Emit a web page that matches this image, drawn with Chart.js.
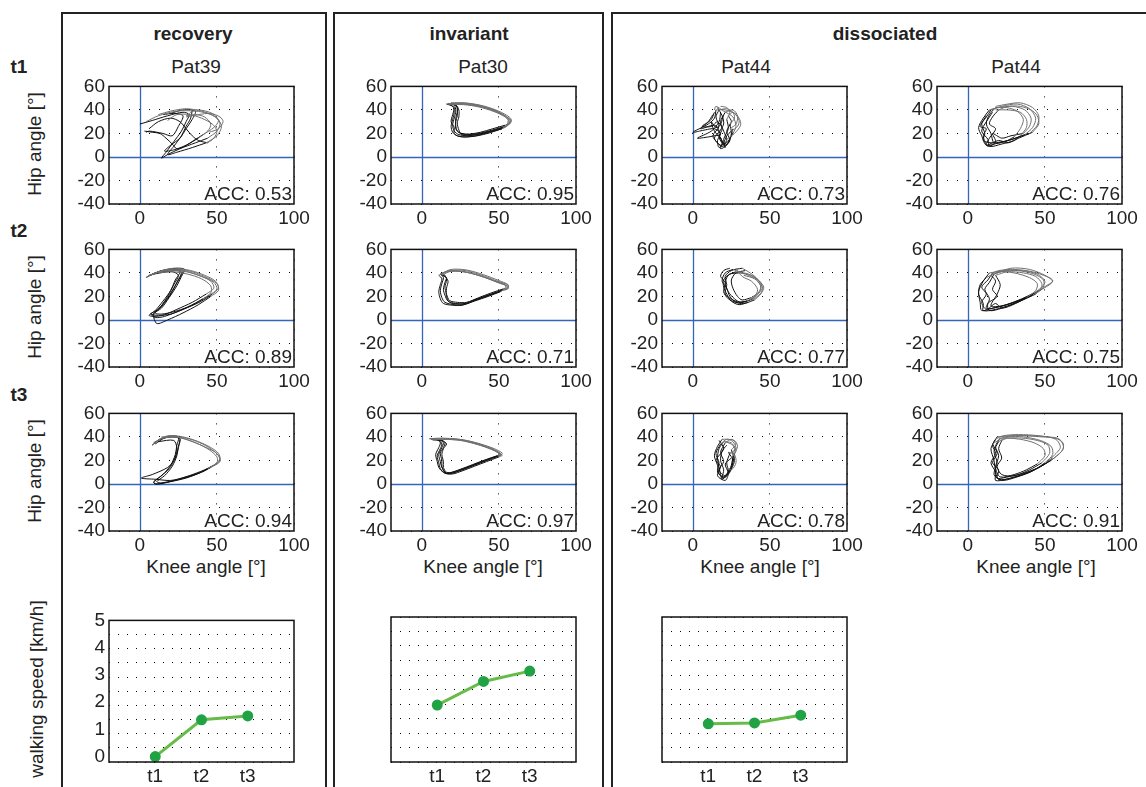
<!DOCTYPE html>
<html>
<head>
<meta charset="utf-8">
<script src="https://cdn.jsdelivr.net/npm/chart.js@4.4.1/dist/chart.umd.min.js"></script>
<style>
  body { margin: 0; background: #fff; }
  #fig { position: relative; width: 1146px; height: 787px; overflow: hidden;
         font-family: 'Liberation Sans', Arial, sans-serif; color: #222; }
  .frame { position: absolute; border: 2px solid #222; box-sizing: border-box; }
  .lbl { position: absolute; font-size: 19px; white-space: nowrap; transform: translate(-50%, -50%); }
  .bold { font-weight: bold; }
  .rot { transform: translate(-50%, -50%) rotate(-90deg); }
  canvas { position: absolute; }
</style>
</head>
<body>
<div id="fig"></div>
<script>
// ---- data: knee angle (x) / hip angle (y), one sub-array per gait cycle ----
// black = stance part, grey = swing part
var pat39T1Black = [
  [[0,28],[8,31],[18,35],[28,38],[32,36],[30,30],[27,22],[22,13],[17,4],[14,-1],[18,2],[26,7],[36,12],[44,16]],
  [[3,22],[8,21],[13,20],[17,16],[21,11],[24,7],[29,9],[35,14],[41,19]],
  [[34,40],[33,33],[30,26],[27,18],[22,9],[18,2],[24,4],[34,8],[43,12]],
  [[15,36],[22,37],[28,35],[25,26],[21,18],[15,20],[6,22],[4,21]],
  [[6,24],[12,30],[20,33],[26,30],[30,24],[34,18],[38,14],[44,12]],
  [[20,37],[28,40],[36,39],[34,32],[30,24],[26,16],[20,10],[16,5],[22,6],[30,10],[38,16]]
];
var pat39T1Grey = [
  [[44,16],[50,22],[52,29],[48,35],[40,39],[30,41],[20,39],[12,36]],
  [[41,19],[48,25],[51,31],[47,37],[38,40],[33,38],[31,34]],
  [[43,12],[50,18],[53,26],[50,33],[44,37],[36,39],[24,39],[12,35],[4,30]],
  [[44,12],[48,16],[50,22],[47,28],[40,33],[32,36],[24,36],[18,31]],
  [[38,16],[44,22],[46,28],[42,34],[36,36],[30,35]],
  [[30,34],[38,36],[46,37],[52,34],[54,30],[51,24],[45,21]]
];
var pat39T2Black = [
  [[5,37],[12,41],[22,43],[28,42],[26,36],[22,27],[17,17],[12,9],[8,4],[10,2],[16,3],[26,8],[36,14],[45,21]],
  [[7,38],[14,42],[24,44],[29,43],[27,37],[24,29],[19,19],[14,10],[9,5],[11,-3],[18,0],[28,6],[38,13],[46,20]],
  [[4,36],[10,40],[20,42],[26,41],[23,34],[20,25],[15,16],[10,8],[6,4],[9,3],[15,4],[24,9],[34,15],[43,22]],
  [[9,39],[16,42],[25,43],[27,40],[24,32],[21,24],[18,18],[13,10],[7,5],[12,4],[20,5],[30,10],[40,16],[47,22]],
  [[6,38],[13,40],[21,41],[25,38],[22,30],[18,20],[14,12],[10,6],[14,5],[22,7],[31,11],[41,18]]
];
var pat39T2Grey = [
  [[45,21],[50,26],[48,32],[40,37],[30,41],[18,42],[8,39],[5,37]],
  [[46,20],[51,25],[50,31],[42,37],[31,42],[20,43],[10,40],[7,38]],
  [[43,22],[48,27],[46,33],[38,38],[28,42],[16,42],[7,38],[4,36]],
  [[47,22],[51,27],[49,33],[42,38],[33,42],[22,44],[12,41],[9,39]],
  [[41,18],[46,23],[46,29],[40,35],[31,39],[21,41],[12,40]]
];
var pat39T3Black = [
  [[8,33],[13,38],[20,40],[25,39],[24,33],[23,25],[20,16],[15,8],[9,2],[10,0],[16,1],[26,4],[36,8],[44,13]],
  [[12,36],[22,37],[24,30],[22,20],[18,14],[8,8],[1,5],[10,4],[20,3],[30,6],[40,10],[47,15]],
  [[10,34],[16,39],[23,40],[26,38],[25,31],[23,22],[19,13],[13,6],[9,1],[12,0],[20,2],[30,5],[40,10],[46,14]],
  [[9,35],[15,39],[22,41],[26,39],[25,32],[24,24],[21,15],[16,7],[11,2],[14,1],[22,3],[32,7],[42,12],[48,16]]
];
var pat39T3Grey = [
  [[44,13],[50,18],[50,23],[45,29],[38,34],[30,38],[22,40],[14,39],[8,33]],
  [[47,15],[52,20],[50,26],[43,31],[34,36],[24,40],[14,40]],
  [[46,14],[52,19],[51,24],[46,30],[39,35],[30,39],[21,40],[13,38],[10,34]],
  [[48,16],[52,21],[51,26],[46,31],[38,36],[28,40],[18,41],[9,35]]
];

var pat30T1Black = [
  [[53,25],[45,22],[36,19],[29,18],[24,19],[21,22],[20,27],[21,33],[22,39],[21,44],[17,45.5]],
  [[54,26],[46,23],[37,20],[30,19],[25,20],[22,24],[22,30],[23,35],[23,40],[22,44],[18,45]],
  [[52,24],[44,21],[35,18],[28,17],[23,18],[20,21],[19,26],[20,32],[21,38],[20,43],[16,45]],
  [[53,25],[45,22],[37,19.5],[31,18.5],[26,19],[24,23],[23,29],[24,34],[24,40],[22,44],[17,45]],
  [[54,27],[46,24],[38,21],[31,19.5],[26,20],[23,22],[22,27],[22,33],[23,38],[23,43],[19,46]],
  [[52,24],[44,20.5],[36,18],[29,17],[24,17.5],[21,20],[21,25],[19,30],[20,36],[21,42],[18,44.5]]
];
var pat30T1Grey = [
  [[17,45.5],[26,45.5],[36,44],[46,40],[54,35],[57,31],[56,28],[53,25]],
  [[18,45],[27,45],[37,43],[47,39],[55,34],[58,31],[57,28],[54,26]],
  [[16,45],[25,46],[35,44.5],[45,41],[53,36],[56,32],[55,27],[52,24]],
  [[17,45],[26,45],[36,43.5],[46,40],[54,35],[57.5,31],[56,27],[53,25]],
  [[19,46],[28,46],[38,44],[48,40],[55,35.5],[58,32],[57,29],[54,27]],
  [[18,44.5],[27,44.5],[37,42.5],[47,38.5],[54,34],[56.5,30],[55,26],[52,24]]
];
var pat30T2Black = [
  [[52,25],[44,21],[35,17],[27,13],[21,13],[15,15],[13,19],[12,25],[13,31],[14,36],[12,39]],
  [[53,26],[45,22],[36,18],[28,14],[22,14],[17,16],[15,21],[14,26],[15,32],[16,36],[13,38]],
  [[51,24],[43,20],[34,16],[26,12.5],[20,12.5],[14,14],[12,18],[11,24],[12,30],[13,35],[11,38]],
  [[52,25],[44,21.5],[36,17.5],[29,14],[23,13.5],[18,15],[16,20],[16,27],[17,33],[15,37],[12,39]],
  [[53,26.5],[45,23],[37,19],[29,15],[23,15],[18,16.5],[16,22],[15,28],[16,34],[15,38],[13,39.5]]
];
var pat30T2Grey = [
  [[12,39],[18,42],[28,41],[39,37],[49,32],[55,29],[55,27],[52,25]],
  [[13,38],[19,41.5],[29,40.5],[40,36.5],[50,31.5],[56,28.5],[56,26.5],[53,26]],
  [[11,38],[17,41],[27,41],[38,37.5],[48,33],[54,30],[54,27],[51,24]],
  [[12,39],[18,42],[28,42],[39,38],[49,33],[56,29.5],[55,26],[52,25]],
  [[13,39.5],[19,43],[29,42.5],[40,38.5],[50,33.5],[56,30],[56,27.5],[53,26.5]]
];
var pat30T3Black = [
  [[50,24],[42,20],[34,16],[26,12],[19,9],[15,9],[12,13],[11,18],[10,24],[12,30],[13,34],[11,37],[6,38]],
  [[50,23],[42,19],[34,15],[26,11],[20,8.5],[16,9],[13,14],[12,19],[11,25],[13,31],[14,35],[12,37],[7,37.5]],
  [[49,24],[41,20.5],[33,16.5],[25,12.5],[18,9.5],[14,10],[11,14],[10,19],[9,25],[11,31],[12,35],[10,38],[5,38.5]],
  [[50,24],[42,20],[34,16],[26,12],[19,9],[15,9.5],[13,15],[13,20],[12,26],[14,31],[15,35],[12,37.5],[6,38]],
  [[51,25],[43,21],[35,17],[27,13],[20,10],[16,10],[14,14],[14,19],[13,25],[14,30],[16,34],[13,37],[8,38]]
];
var pat30T3Grey = [
  [[6,38],[14,38.5],[25,37.5],[36,34],[45,30],[51,26],[52,24],[50,24]],
  [[7,37.5],[15,38],[26,37],[37,33.5],[46,29],[51,25.5],[51,23.5],[50,23]],
  [[5,38.5],[13,39],[24,38],[35,35],[44,31],[50,27],[51,24.5],[49,24]],
  [[6,38],[14,38],[25,37],[36,33.5],[45,29.5],[50,26],[51,24],[50,24]],
  [[8,38],[16,38.5],[27,37.5],[38,34],[47,30],[52,26.5],[52,25],[51,25]]
];

var pat44aT1Black = [
  [[15,40],[14,33],[10,28],[0,21],[8,23],[14,24],[18,20],[16,14],[17,8],[20,12],[22,18],[25,22]],
  [[18,38],[17,30],[12,22],[3,16],[10,17],[17,18],[19,12],[18,7],[22,10],[24,16],[26,20]],
  [[20,36],[18,28],[15,25],[12,30],[14,22],[18,16],[21,10],[24,14],[22,22],[25,30],[23,35]],
  [[16,42],[19,35],[20,28],[17,20],[19,13],[21,8],[20,15],[23,24],[22,32]],
  [[14,38],[12,32],[5,24],[14,27],[17,22],[14,16],[18,10],[22,14],[20,22],[18,30],[21,38]],
  [[17,40],[15,34],[17,26],[13,18],[16,12],[19,9],[23,12],[25,20],[24,28]],
  [[13,36],[10,30],[6,26],[12,26],[16,30],[19,24],[17,17],[20,11],[24,15],[26,24]]
];
var pat44aT1Grey = [
  [[25,22],[29,26],[30,31],[27,37],[21,40],[15,40]],
  [[26,20],[28,26],[26,34],[20,39],[15,43],[14,40]],
  [[23,35],[26,38],[30,33],[31,27],[27,20],[22,15]],
  [[22,32],[24,38],[22,42],[18,43]],
  [[21,38],[26,40],[29,35],[28,28],[24,24]],
  [[24,28],[27,33],[26,38],[22,41],[17,40]]
];
var pat44aT2Black = [
  [[30,40],[24,39],[20,34],[20,28],[22,22],[25,16],[30,13],[36,15]],
  [[26,43],[21,40],[19,33],[22,27],[24,20],[28,15],[33,14],[40,17]],
  [[34,42],[28,40],[25,34],[26,27],[29,20],[32,17],[38,19]],
  [[24,44],[20,42],[18,37],[21,32],[20,24],[23,18],[28,15],[35,16]],
  [[28,41],[23,38],[21,31],[23,24],[27,18],[31,15],[37,17]],
  [[32,44],[25,42],[21,37],[22,30],[21,22],[26,17],[32,15],[39,18]]
];
var pat44aT2Grey = [
  [[36,15],[42,20],[45,25],[44,32],[38,38],[30,40]],
  [[40,17],[44,22],[46,28],[42,34],[34,39],[26,43]],
  [[38,19],[43,24],[44,29],[40,35],[33,38]],
  [[35,16],[40,20],[42,26],[38,33],[32,37],[28,44]],
  [[37,17],[42,22],[45,27],[43,33],[36,39],[28,41]],
  [[39,18],[43,23],[44,29],[41,36],[36,41],[32,44]]
];
var pat44aT3Black = [
  [[20,36],[17,30],[16,22],[17,14],[18,8],[19,4],[22,8],[25,16],[26,24]],
  [[18,34],[15,26],[17,18],[16,10],[20,6],[23,10],[22,18],[24,26]],
  [[22,33],[19,28],[18,20],[20,12],[19,5],[24,12],[26,20],[23,27]],
  [[17,37],[20,30],[15,20],[18,15],[16,7],[21,3],[23,9],[21,17],[25,22]],
  [[19,38],[16,32],[14,24],[16,16],[17,9],[20,5],[24,10],[26,18],[27,26]],
  [[21,35],[18,27],[20,19],[17,12],[21,7],[25,13],[27,20],[25,29]]
];
var pat44aT3Grey = [
  [[26,24],[27,30],[25,35],[20,36]],
  [[24,26],[28,30],[26,36],[22,38],[18,34]],
  [[23,27],[27,25],[28,18],[25,12],[22,14]],
  [[25,22],[28,28],[26,33],[21,36]],
  [[27,26],[29,32],[27,37],[22,38],[19,38]],
  [[25,29],[28,34],[25,38],[21,35]]
];

var pat44bT1Black = [
  [[14,40],[10,33],[7,25],[9,18],[12,10],[20,12],[29,15],[37,19]],
  [[16,38],[12,30],[9,22],[13,15],[14,9],[22,11],[30,14],[34,18]],
  [[18,42],[14,36],[12,28],[15,20],[17,12],[24,13],[30,17]],
  [[12,35],[9,28],[11,20],[10,14],[16,12],[26,14],[35,18],[40,20]],
  [[15,40],[12,34],[8,26],[12,24],[10,18],[13,9],[18,13],[16,20],[22,16],[28,18],[36,20]],
  [[20,40],[16,34],[14,28],[18,24],[14,16],[12,10],[20,14],[26,12],[33,16],[42,21]]
];
var pat44bT1Grey = [
  [[37,19],[42,25],[44,33],[40,41],[32,45],[22,43],[14,40]],
  [[34,18],[38,25],[38,32],[34,38],[26,40],[18,40]],
  [[30,17],[34,24],[36,32],[32,39],[25,42],[18,42]],
  [[40,20],[45,27],[46,35],[42,42],[34,46],[26,45],[18,43]],
  [[36,20],[40,26],[41,33],[37,40],[29,43],[20,42],[15,40]],
  [[42,21],[46,28],[45,35],[41,40],[34,43],[26,43],[20,40]]
];
var pat44bT2Black = [
  [[14,40],[10,33],[7,24],[8,15],[9,8],[16,10],[25,13],[35,18],[43,23]],
  [[17,39],[14,32],[11,26],[14,18],[12,10],[20,11],[30,15],[40,20],[46,25]],
  [[18,38],[21,30],[19,22],[15,12],[22,12],[32,16],[42,21]],
  [[12,36],[8,30],[7,22],[10,14],[10,8],[18,9],[28,13],[38,19]],
  [[16,40],[13,34],[9,28],[12,22],[9,15],[12,9],[18,14],[22,10],[31,14],[41,21],[48,26]],
  [[15,38],[18,33],[16,26],[19,20],[13,14],[14,8],[22,10],[34,16],[44,22]]
];
var pat44bT2Grey = [
  [[43,23],[48,28],[50,33],[45,39],[35,42],[24,42],[14,40]],
  [[46,25],[52,30],[55,33],[50,38],[40,43],[28,44],[17,39]],
  [[42,21],[47,26],[48,31],[44,37],[36,40],[26,41],[18,38]],
  [[38,19],[44,25],[45,31],[40,36],[30,40],[20,41],[12,36]],
  [[48,26],[54,31],[55,34],[51,37],[42,41],[30,43],[20,42],[16,40]],
  [[44,22],[49,28],[49,34],[43,39],[32,42],[22,41],[15,38]]
];
var pat44bT3Black = [
  [[18,38],[15,30],[17,20],[18,10],[20,4],[28,5],[40,10],[50,17],[55,23]],
  [[20,36],[17,28],[19,18],[17,8],[22,3],[32,6],[42,11],[50,18]],
  [[21,39],[18,32],[20,24],[18,14],[21,6],[30,8],[38,12],[45,17]],
  [[16,34],[19,26],[16,18],[20,12],[19,5],[26,6],[36,9],[46,14],[54,20]],
  [[19,40],[16,33],[18,26],[15,18],[18,10],[18,3],[25,4],[35,8],[46,14],[56,22]],
  [[22,37],[20,30],[22,22],[19,15],[22,8],[30,7],[40,12],[48,18]]
];
var pat44bT3Grey = [
  [[55,23],[60,31],[57,38],[46,41],[33,42],[23,41],[18,38]],
  [[50,18],[55,25],[54,32],[47,37],[36,40],[26,40],[20,36]],
  [[45,17],[50,24],[49,30],[43,35],[34,38],[26,39],[21,39]],
  [[54,20],[61,28],[62,34],[58,39],[48,40],[36,41],[24,40],[16,34]],
  [[56,22],[62,30],[60,37],[52,40],[40,41],[28,41],[19,40]],
  [[48,18],[53,26],[52,33],[45,37],[35,39],[26,39],[22,37]]
];

var accRecovery = [0.53, 0.89, 0.94];
var accInvariant = [0.95, 0.71, 0.97];
var accDissA = [0.73, 0.77, 0.78];
var accDissB = [0.76, 0.75, 0.91];

var kneeTicks = [0, 50, 100];
var hipTicks = [-40, -20, 0, 20, 40, 60];

// walking speed [km/h] per session
var sessions = ['t1', 't2', 't3'];
var speedRecovery = [0.0, 1.35, 1.49];
var speedInvariant = [1.84, 2.69, 3.06];
var speedDissociated = [1.17, 1.2, 1.48];
var speedTicks = [0, 1, 2, 3, 4, 5];

// ---- layout ----
var fig = document.getElementById('fig');
var colX = [109, 391, 662, 937];
var rowY = [83, 246, 410];
var AX_W = 185, AX_H = 121;
var SP_Y = 617, SP_H = 145;
var PAD_T = 12, PAD_R = 22, Y_W = 46, X_H = 28;
var FONT = { family: "'Liberation Sans', Arial, sans-serif", size: 19 };
var INK = '#222';

function addDiv(cls, text, x, y) {
  var d = document.createElement('div');
  d.className = cls;
  d.textContent = text;
  d.style.left = x + 'px';
  d.style.top = y + 'px';
  fig.appendChild(d);
  return d;
}

function addFrame(x, w) {
  var d = document.createElement('div');
  d.className = 'frame';
  Object.assign(d.style, { left: x + 'px', top: '12px', width: w + 'px', height: '820px' });
  fig.appendChild(d);
}

function addCanvas(left, top, w, h) {
  var c = document.createElement('canvas');
  c.width = w; c.height = h;
  c.style.left = left + 'px'; c.style.top = top + 'px';
  c.style.width = w + 'px'; c.style.height = h + 'px';
  fig.appendChild(c);
  return c;
}

// dotted grid, skipped at 0 where the blue zero line goes
function dotColor(ctx) {
  return ctx.tick && ctx.tick.value === 0 ? 'rgba(0,0,0,0)' : '#000';
}

// box around the plot area, zero lines and the ACC note
var axesBox = {
  id: 'axesBox',
  beforeDatasetsDraw: function(chart, args, opts) {
    if (!opts.zero) return;
    var a = chart.chartArea, ctx = chart.ctx;
    var x0 = Math.round(chart.scales.x.getPixelForValue(0)) + 0.5;
    var y0 = Math.round(chart.scales.y.getPixelForValue(0)) + 0.5;
    ctx.save();
    ctx.setLineDash([]);
    ctx.strokeStyle = '#3366bb';
    ctx.lineWidth = 1.3;
    ctx.beginPath();
    ctx.moveTo(x0, a.top); ctx.lineTo(x0, a.bottom);
    ctx.moveTo(a.left, y0); ctx.lineTo(a.right, y0);
    ctx.stroke();
    ctx.restore();
  },
  afterDraw: function(chart, args, opts) {
    var a = chart.chartArea, ctx = chart.ctx;
    ctx.save();
    ctx.setLineDash([]);
    ctx.strokeStyle = '#111';
    ctx.lineWidth = 1.5;
    ctx.strokeRect(a.left, a.top, a.right - a.left, a.bottom - a.top);
    if (opts.note) {
      ctx.font = FONT.size + 'px ' + FONT.family;
      ctx.fillStyle = INK;
      ctx.textAlign = 'right';
      ctx.textBaseline = 'alphabetic';
      ctx.fillText(opts.note, a.right - 2, a.bottom - 4);
    }
    ctx.restore();
  }
};

function loopSets(cycles, color) {
  return cycles.map(function(c) {
    return {
      data: c.map(function(p) { return { x: p[0], y: p[1] }; }),
      showLine: true,
      borderColor: color,
      borderWidth: 1,
      pointRadius: 0,
      tension: 0.3,
      fill: false
    };
  });
}

function cyclogram(col, row, black, grey, acc) {
  var c = addCanvas(colX[col] - Y_W, rowY[row] - PAD_T, Y_W + AX_W + PAD_R, PAD_T + AX_H + X_H);
  new Chart(c, {
    type: 'scatter',
    data: { datasets: loopSets(grey, '#707070').concat(loopSets(black, '#111')) },
    options: {
      responsive: false,
      animation: false,
      layout: { padding: { top: PAD_T, right: PAD_R, left: 0, bottom: 0 } },
      plugins: {
        legend: { display: false },
        tooltip: { enabled: false },
        axesBox: { zero: true, note: 'ACC: ' + acc.toFixed(2) }
      },
      scales: {
        x: {
          type: 'linear', min: -20, max: 100,
          afterBuildTicks: function(s) { s.ticks = kneeTicks.map(function(v) { return { value: v }; }); },
          afterFit: function(s) { s.height = X_H; },
          grid: { color: dotColor, lineWidth: 1, drawTicks: false },
          border: { display: false, dash: [1, 9] },
          ticks: { font: FONT, color: INK, padding: 3, maxRotation: 0, autoSkip: false }
        },
        y: {
          type: 'linear', min: -40, max: 60,
          afterBuildTicks: function(s) { s.ticks = hipTicks.map(function(v) { return { value: v }; }); },
          afterFit: function(s) { s.width = Y_W; },
          grid: { color: dotColor, lineWidth: 1, drawTicks: false },
          border: { display: false, dash: [1, 9] },
          ticks: { font: FONT, color: INK, padding: 4, autoSkip: false }
        }
      }
    },
    plugins: [axesBox]
  });
}

function speedPanel(col, speeds, showY) {
  var c = addCanvas(colX[col] - Y_W, SP_Y - PAD_T, Y_W + AX_W + PAD_R, PAD_T + SP_H + X_H);
  new Chart(c, {
    type: 'scatter',
    data: {
      datasets: [{
        data: speeds.map(function(v, i) { return { x: i + 1, y: v }; }),
        showLine: true,
        borderColor: '#67bb48',
        borderWidth: 3,
        pointRadius: 4,
        pointBackgroundColor: '#21a244',
        pointBorderColor: '#21a244',
        tension: 0
      }]
    },
    options: {
      responsive: false,
      animation: false,
      layout: { padding: { top: PAD_T, right: PAD_R, left: 0, bottom: 0 } },
      plugins: { legend: { display: false }, tooltip: { enabled: false }, axesBox: {} },
      scales: {
        x: {
          type: 'linear', min: 0, max: sessions.length + 1,
          afterBuildTicks: function(s) { s.ticks = sessions.map(function(v, i) { return { value: i + 1 }; }); },
          afterFit: function(s) { s.height = X_H; },
          grid: { display: false, drawTicks: false },
          border: { display: false },
          ticks: {
            font: FONT, color: INK, padding: 3, maxRotation: 0, autoSkip: false,
            callback: function(v) { return sessions[v - 1]; }
          }
        },
        y: {
          type: 'linear', min: -0.2, max: 5,
          afterBuildTicks: function(s) { s.ticks = speedTicks.map(function(v) { return { value: v }; }); },
          afterFit: function(s) { s.width = Y_W; },
          grid: { display: false, drawTicks: false },
          border: { display: false },
          ticks: { display: showY, font: FONT, color: INK, padding: 4, autoSkip: false }
        },
        yg: {
          type: 'linear', position: 'left', min: 0, max: 10,
          afterBuildTicks: function(s) {
            var t = [];
            for (var i = 0; i <= 10; i++) t.push({ value: i });
            s.ticks = t;
          },
          afterFit: function(s) { s.width = 0; },
          grid: { color: '#000', lineWidth: 1, drawTicks: false },
          border: { display: false, dash: [1, 8] },
          ticks: { display: false }
        }
      }
    },
    plugins: [axesBox]
  });
}

// group frames and headings
addFrame(61, 266);
addFrame(333, 271);
addFrame(611, 600);
addDiv('lbl bold', 'recovery', 193, 34);
addDiv('lbl bold', 'invariant', 469, 34);
addDiv('lbl bold', 'dissociated', 885, 34);
addDiv('lbl bold', 't1', 19, 67);
addDiv('lbl bold', 't2', 19, 231);
addDiv('lbl bold', 't3', 19, 395);
addDiv('lbl', 'Pat39', 196, 67);
addDiv('lbl', 'Pat30', 483, 67);
addDiv('lbl', 'Pat44', 746, 67);
addDiv('lbl', 'Pat44', 1016, 67);
[0, 1, 2].forEach(function(r) {
  addDiv('lbl rot', 'Hip angle [°]', 35, rowY[r] + AX_H / 2);
});
[206, 483, 760, 1036].forEach(function(x) {
  addDiv('lbl', 'Knee angle [°]', x, 567);
});
addDiv('lbl rot', 'walking speed [km/h]', 37, 689);

cyclogram(0, 0, pat39T1Black, pat39T1Grey, accRecovery[0]);
cyclogram(0, 1, pat39T2Black, pat39T2Grey, accRecovery[1]);
cyclogram(0, 2, pat39T3Black, pat39T3Grey, accRecovery[2]);
cyclogram(1, 0, pat30T1Black, pat30T1Grey, accInvariant[0]);
cyclogram(1, 1, pat30T2Black, pat30T2Grey, accInvariant[1]);
cyclogram(1, 2, pat30T3Black, pat30T3Grey, accInvariant[2]);
cyclogram(2, 0, pat44aT1Black, pat44aT1Grey, accDissA[0]);
cyclogram(2, 1, pat44aT2Black, pat44aT2Grey, accDissA[1]);
cyclogram(2, 2, pat44aT3Black, pat44aT3Grey, accDissA[2]);
cyclogram(3, 0, pat44bT1Black, pat44bT1Grey, accDissB[0]);
cyclogram(3, 1, pat44bT2Black, pat44bT2Grey, accDissB[1]);
cyclogram(3, 2, pat44bT3Black, pat44bT3Grey, accDissB[2]);

speedPanel(0, speedRecovery, true);
speedPanel(1, speedInvariant, false);
speedPanel(2, speedDissociated, false);
</script>
</body>
</html>
